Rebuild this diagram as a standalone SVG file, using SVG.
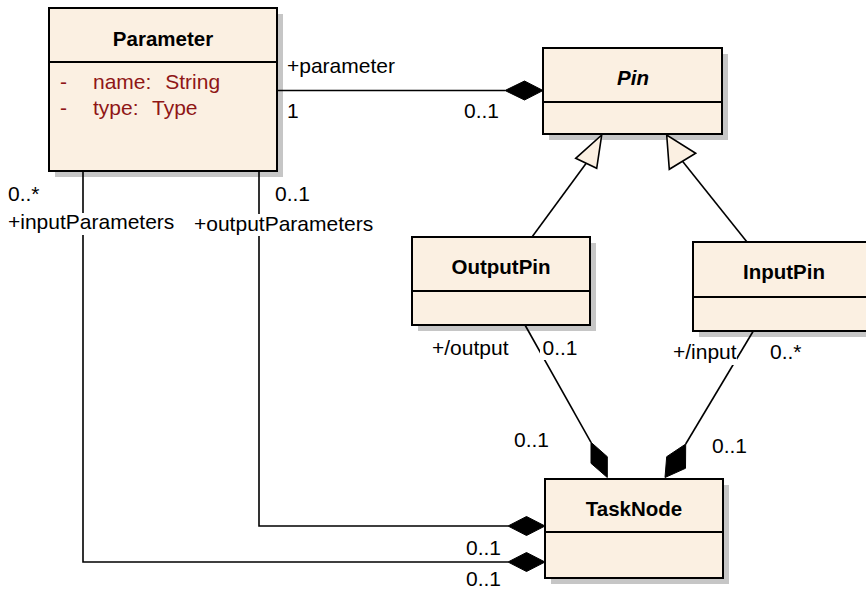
<svg xmlns="http://www.w3.org/2000/svg" width="866" height="591" viewBox="0 0 866 591">
<style>
.shadow{fill:#c6c6c6;stroke:none}
.box{fill:#fbf0e2;stroke:#000;stroke-width:2}
.div{stroke:#000;stroke-width:2}
.title{font-family:"Liberation Sans",Arial,sans-serif;font-size:20.5px;font-weight:bold;text-anchor:middle;fill:#000}
.attr{font-family:"Liberation Sans",Arial,sans-serif;font-size:21px;fill:#8f1616}
.lbl{font-family:"Liberation Sans",Arial,sans-serif;font-size:21px;fill:#000}
.conn{fill:none;stroke:#000;stroke-width:1.6}
.dia{fill:#000;stroke:#000;stroke-width:1}
.tri{fill:#fbf0e2;stroke:#000;stroke-width:1.6}
.bg{fill:#fff}
</style>
<rect width="866" height="591" fill="#fff"/>
<g id="Parameter">
<rect class="shadow" x="55" y="14" width="228" height="163"/>
<rect class="box" x="49" y="8" width="228" height="163"/>
<line class="div" x1="49" y1="62" x2="277" y2="62"/>
<text class="title" x="163" y="45.5">Parameter</text>
<text class="attr" x="60" y="89">-</text>
<text class="attr" x="93" y="89">name: <tspan dx="8">String</tspan></text>
<text class="attr" x="60" y="115">-</text>
<text class="attr" x="93" y="115">type: <tspan dx="8">Type</tspan></text>
</g>
<g id="Pin">
<rect class="shadow" x="549" y="54" width="179" height="86"/>
<rect class="box" x="543" y="48" width="179" height="86"/>
<line class="div" x1="543" y1="102" x2="722" y2="102"/>
<text class="title" x="633" y="85" font-style="italic">Pin</text>
</g>
<g id="OutputPin">
<rect class="shadow" x="418" y="243" width="178" height="88"/>
<rect class="box" x="412" y="237" width="178" height="88"/>
<line class="div" x1="412" y1="291" x2="590" y2="291"/>
<text class="title" x="501" y="274">OutputPin</text>
</g>
<g id="InputPin">
<rect class="shadow" x="699" y="248" width="182" height="89"/>
<rect class="box" x="693" y="242" width="182" height="89"/>
<line class="div" x1="693" y1="297" x2="875" y2="297"/>
<text class="title" x="784" y="279">InputPin</text>
</g>
<g id="TaskNode">
<rect class="shadow" x="551" y="485" width="178" height="99"/>
<rect class="box" x="545" y="479" width="178" height="99"/>
<line class="div" x1="545" y1="532" x2="723" y2="532"/>
<text class="title" x="634" y="515.5">TaskNode</text>
</g>
<g id="connectors">
<line class="conn" x1="277" y1="90.5" x2="505" y2="90.5"/>
<polygon class="dia" points="505,90.5 524.5,81 543,90.5 524.5,100"/>
<line class="conn" x1="532" y1="237" x2="586.2" y2="163.3"/>
<polygon class="tri" points="601.7,135 575.7,158.3 596.7,168.3"/>
<line class="conn" x1="747" y1="242" x2="682.5" y2="161.3"/>
<polygon class="tri" points="666.7,135 669.3,169.3 695.7,153.3"/>
<line class="conn" x1="525" y1="325" x2="591" y2="442.3"/>
<polygon class="dia" points="591,442.3 607.3,456.7 607.3,477.5 591,463.3"/>
<line class="conn" x1="753.3" y1="331" x2="685.7" y2="444"/>
<polygon class="dia" points="685.7,444 666.7,456.7 665,477.5 685.5,468.3"/>
<polyline class="conn" points="259,171 259,526 508,526"/>
<polygon class="dia" points="508,526 526.5,516.5 545,526 526.5,535.5"/>
<polyline class="conn" points="83,171 83,562 508,562"/>
<polygon class="dia" points="508,562 526.5,552.5 545,562 526.5,571.5"/>
</g>
<g id="labels">
<text class="lbl" x="287" y="73">+parameter</text>
<text class="lbl" x="287" y="118">1</text>
<text class="lbl" x="464" y="118">0..1</text>
<text class="lbl" x="8" y="201">0..*</text>
<rect class="bg" x="7" y="213" width="169" height="22"/>
<text class="lbl" x="8" y="229">+inputParameters</text>
<text class="lbl" x="275" y="201">0..1</text>
<rect class="bg" x="193" y="214" width="182" height="22"/>
<text class="lbl" x="194" y="231">+outputParameters</text>
<text class="lbl" x="432" y="355">+/output</text>
<rect class="bg" x="540" y="341" width="36" height="19"/>
<text class="lbl" x="542.5" y="355">0..1</text>
<rect class="bg" x="672" y="342" width="65" height="23"/>
<text class="lbl" x="673" y="359">+/input</text>
<text class="lbl" x="770" y="359">0..*</text>
<text class="lbl" x="514" y="446.5">0..1</text>
<text class="lbl" x="712" y="452.5">0..1</text>
<text class="lbl" x="466" y="555">0..1</text>
<text class="lbl" x="466" y="586">0..1</text>
</g>
</svg>
